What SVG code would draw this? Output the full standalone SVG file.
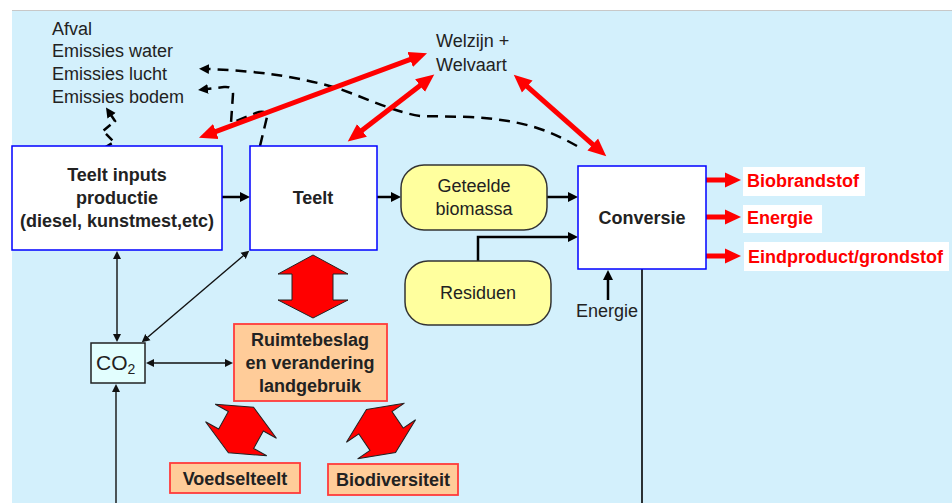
<svg xmlns="http://www.w3.org/2000/svg" width="952" height="503" viewBox="0 0 952 503">
<defs>
<style>
text{font-family:"Liberation Sans",Arial,sans-serif;font-size:18px;fill:#222}
.b{font-weight:bold}
.c{text-anchor:middle}
.red{fill:#FF0000;font-weight:bold}
.box{fill:#fff;stroke:#0000FF;stroke-width:1.5}
.pill{fill:#FFFF9E;stroke:#333;stroke-width:1.5}
.peach{fill:#FFCC99;stroke:#FF3B3B;stroke-width:1.8}
.lbl{fill:#fff}
.bl{fill:none;stroke:#000;stroke-width:2.5}
.thin{fill:none;stroke:#111;stroke-width:1.4}
.dash{fill:none;stroke:#000;stroke-width:2.5;stroke-dasharray:11 7}
.rl{fill:none;stroke:#FF0000;stroke-width:5}
.ro{fill:none;stroke:#FF0000;stroke-width:5}
.big{fill:#FF0000;stroke:#222;stroke-width:1}
</style>
<marker id="rh" markerUnits="userSpaceOnUse" markerWidth="22" markerHeight="22" viewBox="0 -11 22 22" refX="1" refY="0" orient="auto-start-reverse"><path d="M0,-8 L18,0 L0,8 z" fill="#FF0000"/></marker>
<marker id="rs" markerUnits="userSpaceOnUse" markerWidth="20" markerHeight="20" viewBox="0 -10 20 20" refX="1" refY="0" orient="auto"><path d="M0,-7.5 L16,0 L0,7.5 z" fill="#FF0000"/></marker>
<marker id="bk" markerUnits="userSpaceOnUse" markerWidth="14" markerHeight="14" viewBox="0 -7 14 14" refX="1" refY="0" orient="auto"><path d="M0,-5 L10,0 L0,5 z" fill="#000"/></marker>
<marker id="tk" markerUnits="userSpaceOnUse" markerWidth="12" markerHeight="12" viewBox="0 -6 12 12" refX="1" refY="0" orient="auto-start-reverse"><path d="M0,-4 L8,0 L0,4 z" fill="#111"/></marker>
</defs>

<rect x="0" y="0" width="952" height="503" fill="#fff"/>
<rect x="12" y="11" width="940" height="492" fill="#D3F0FC"/>
<line x1="12" y1="10.5" x2="952" y2="10.5" stroke="#C8C8C8" stroke-width="1"/>

<g id="emissions">
<text x="52" y="35">Afval</text>
<text x="52" y="57">Emissies water</text>
<text x="52" y="80">Emissies lucht</text>
<text x="52" y="103">Emissies bodem</text>
</g>

<g id="welzijn">
<text x="436" y="47">Welzijn +</text>
<text x="436" y="71">Welvaart</text>
</g>

<g id="connectors">
<path class="dash" d="M577,146 C545,128 520,120 470,117 L420,116 C395,112 370,100 340,89 C300,77 260,71 208,69" marker-end="url(#bk)"/>
<path class="dash" d="M260,146 L267,117 Q266,109 256,113 L231,123 L233,94 Q233,86 224,87 L207,89" marker-end="url(#bk)"/>
<path class="dash" style="stroke-dasharray:9 5" d="M104,148 L114,142 L103,131 L115,121 L111,115" marker-end="url(#bk)"/>

<line class="rl" x1="214.9" y1="131.8" x2="411.1" y2="59.2" marker-start="url(#rh)" marker-end="url(#rh)"/>
<line class="rl" x1="361.2" y1="131" x2="420.8" y2="85" marker-start="url(#rh)" marker-end="url(#rh)"/>
<line class="rl" x1="526.5" y1="85.9" x2="593.5" y2="145.1" marker-start="url(#rh)" marker-end="url(#rh)"/>

<line class="bl" x1="222" y1="197" x2="241" y2="197" marker-end="url(#bk)"/>
<line class="bl" x1="377" y1="197" x2="392" y2="197" marker-end="url(#bk)"/>
<line class="bl" x1="547" y1="197" x2="569" y2="197" marker-end="url(#bk)"/>
<path class="bl" d="M478,261 V237 H569" marker-end="url(#bk)"/>
<line class="bl" x1="608" y1="300" x2="608" y2="279" marker-end="url(#bk)"/>
<line x1="642" y1="269" x2="642" y2="503" stroke="#000" stroke-width="1.6"/>

<line class="ro" x1="706" y1="180" x2="726" y2="180" marker-end="url(#rs)"/>
<line class="ro" x1="706" y1="217" x2="726" y2="217" marker-end="url(#rs)"/>
<line class="ro" x1="703" y1="256" x2="726" y2="256" marker-end="url(#rs)"/>

<line class="thin" x1="117" y1="258" x2="117" y2="335" marker-start="url(#tk)" marker-end="url(#tk)"/>
<line class="thin" x1="243.9" y1="255.2" x2="147.1" y2="337.8" marker-start="url(#tk)" marker-end="url(#tk)"/>
<line class="thin" x1="153" y1="363" x2="226" y2="363" marker-start="url(#tk)" marker-end="url(#tk)"/>
<line class="thin" x1="116" y1="503" x2="116" y2="391" marker-end="url(#tk)"/>
</g>

<g id="teelt-inputs">
<rect class="box" x="12" y="146" width="210" height="104"/>
<text class="b c" x="117" y="181">Teelt inputs</text>
<text class="b c" x="117" y="204">productie</text>
<text class="b c" x="117" y="227">(diesel, kunstmest,etc)</text>
</g>

<g id="teelt">
<rect class="box" x="250" y="146" width="127" height="104"/>
<text class="b c" x="313" y="204">Teelt</text>
</g>

<g id="geteelde-biomassa">
<rect class="pill" x="401" y="165" width="146" height="65" rx="23"/>
<text class="c" x="474" y="192">Geteelde</text>
<text class="c" x="474" y="215">biomassa</text>
</g>

<g id="residuen">
<rect class="pill" x="405" y="261" width="146" height="64" rx="23"/>
<text class="c" x="478" y="299">Residuen</text>
</g>

<g id="conversie">
<rect class="box" x="578" y="166" width="128" height="103"/>
<text class="b c" x="642" y="224">Conversie</text>
</g>

<g id="energie-in">
<text x="638" y="317" text-anchor="end">Energie</text>
</g>

<g id="biobrandstof">
<rect class="lbl" x="743" y="167" width="122" height="29"/>
<text class="red" x="747" y="187">Biobrandstof</text>
</g>
<g id="energie-out">
<rect class="lbl" x="743" y="205" width="79" height="28"/>
<text class="red" x="747" y="224">Energie</text>
</g>
<g id="eindproduct">
<rect class="lbl" x="744" y="242" width="205" height="29"/>
<text class="red" x="748" y="263">Eindproduct/grondstof</text>
</g>

<g id="co2">
<rect x="91" y="343" width="54" height="40" fill="#E2FEFE" stroke="#222" stroke-width="1.5"/>
<text x="96" y="370" style="font-size:21px">CO<tspan style="font-size:14px" dy="4">2</tspan></text>
</g>

<g id="big-arrow">
<polygon class="big" points="313,255 348,274 333,274 333,300 348,300 313,318 278,300 292,300 292,274 278,274"/>
</g>

<g id="ruimtebeslag">
<rect class="peach" x="234" y="324" width="153" height="77"/>
<text class="b c" x="310" y="346">Ruimtebeslag</text>
<text class="b c" x="310" y="369">en verandering</text>
<text class="b c" x="310" y="392">landgebruik</text>
</g>

<g id="diag-left">
<polygon class="big" transform="translate(241,430) rotate(29)" points="0,-26 35,-10 20,-10 20,10 35,10 0,26 -35,10 -20,10 -20,-10 -35,-10"/>
</g>
<g id="diag-right">
<polygon class="big" transform="translate(381,431) rotate(-34)" points="0,-26 35,-10 20,-10 20,10 35,10 0,26 -35,10 -20,10 -20,-10 -35,-10"/>
</g>

<g id="voedselteelt">
<rect class="peach" x="170" y="463" width="130" height="30"/>
<text class="b c" x="235" y="485">Voedselteelt</text>
</g>
<g id="biodiversiteit">
<rect class="peach" x="328" y="464" width="130" height="31"/>
<text class="b c" x="393" y="486">Biodiversiteit</text>
</g>
</svg>
